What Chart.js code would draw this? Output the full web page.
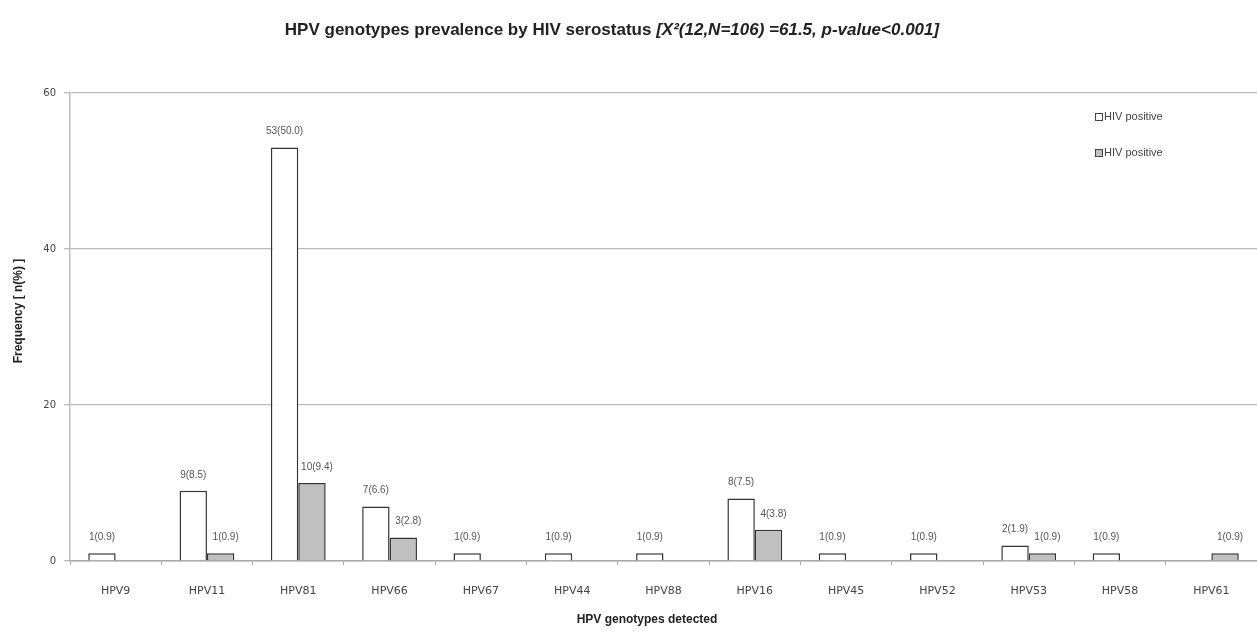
<!DOCTYPE html>
<html>
<head>
<meta charset="utf-8">
<script src="https://cdn.jsdelivr.net/npm/chart.js@4.4.0/dist/chart.umd.min.js"></script>
<style>
  html, body { margin: 0; padding: 0; background: #fff; }
  #wrap { width: 1257px; height: 634px; position: relative; }
</style>
</head>
<body>
<div id="wrap"><canvas id="hpvChart"></canvas></div>
<script>
// categories and values
const genotypes = ["HPV9", "HPV11", "HPV81", "HPV66", "HPV67", "HPV44", "HPV88", "HPV16", "HPV45", "HPV52", "HPV53", "HPV58", "HPV61"];
const hivPos = [1, 9, 53, 7, 1, 1, 1, 8, 1, 1, 2, 1, 0];
const hivPosLabels = ["1(0.9)", "9(8.5)", "53(50.0)", "7(6.6)", "1(0.9)", "1(0.9)", "1(0.9)", "8(7.5)", "1(0.9)", "1(0.9)", "2(1.9)", "1(0.9)", ""];
const hivNeg = [0, 1, 10, 3, 0, 0, 0, 4, 0, 0, 1, 0, 1];
const hivNegLabels = ["", "1(0.9)", "10(9.4)", "3(2.8)", "", "", "", "4(3.8)", "", "", "1(0.9)", "", "1(0.9)"];
const yTicks = [0, 20, 40, 60];
const seriesNames = ["HIV positive", "HIV positive"];

const fontNarrow = "'Liberation Sans Narrow', 'Liberation Sans', Arial";

// title, axis titles, legend and bar labels drawn by hand
const extras = {
  id: "extras",
  afterDraw(chart) {
    const ctx = chart.ctx;
    ctx.save();
    // title with italic part
    const t1 = "HPV genotypes prevalence by HIV serostatus ";
    const t2 = "[X\u00B2(12,N=106) =61.5, p-value<0.001]";
    ctx.fillStyle = "#222";
    ctx.textBaseline = "middle";
    ctx.font = "bold 17px " + fontNarrow;
    const w1 = ctx.measureText(t1).width;
    ctx.font = "italic bold 17px " + fontNarrow;
    const w2 = ctx.measureText(t2).width;
    let x = 612 - (w1 + w2) / 2;
    ctx.font = "bold 17px " + fontNarrow;
    ctx.textAlign = "left";
    ctx.fillText(t1, x, 30);
    ctx.font = "italic bold 17px " + fontNarrow;
    ctx.fillText(t2, x + w1, 30);

    // axis titles
    ctx.textAlign = "center";
    ctx.font = "bold 12px " + fontNarrow;
    ctx.fillText("HPV genotypes detected", 647, 620);
    ctx.save();
    ctx.translate(19, 311);
    ctx.rotate(-Math.PI / 2);
    ctx.font = "bold 12px " + fontNarrow;
    ctx.fillText("Frequency [ n(%) ]", 0, 0);
    ctx.restore();

    // legend
    ctx.textAlign = "left";
    ctx.font = "11px " + fontNarrow;
    const fills = ["#ffffff", "#c0c0c0"];
    [117, 153].forEach((ly, i) => {
      ctx.fillStyle = fills[i];
      ctx.strokeStyle = "#444";
      ctx.lineWidth = 1;
      ctx.fillRect(1095, ly - 4, 7, 7);
      ctx.strokeRect(1095.5, ly - 3.5, 7, 7);
      ctx.fillStyle = "#444";
      ctx.fillText(seriesNames[i], 1104, ly);
    });

    // value labels above bars
    ctx.font = "10px " + fontNarrow;
    ctx.fillStyle = "#555";
    ctx.textAlign = "center";
    const sets = [[hivPosLabels, 0], [hivNegLabels, 5]];
    sets.forEach(([labels, dx], di) => {
      chart.getDatasetMeta(di).data.forEach((bar, i) => {
        if (!labels[i]) return;
        ctx.fillText(labels[i], bar.x + dx, bar.y - 16);
      });
    });
    ctx.restore();
  }
};

const data = {
  labels: genotypes,
  datasets: [
    {
      label: seriesNames[0],
      data: hivPos,
      backgroundColor: "#ffffff",
      borderColor: "#333333",
      borderWidth: 1.5,
    },
    {
      label: seriesNames[1],
      data: hivNeg,
      backgroundColor: "#c0c0c0",
      borderColor: "#333333",
      borderWidth: 1.5,
    },
  ],
};

const config = {
  type: "bar",
  data: data,
  options: {
    responsive: true,
    maintainAspectRatio: false,
    animation: false,
    layout: { padding: { top: 93, right: 0, left: 0, bottom: 0 } },
    datasets: { bar: { categoryPercentage: 0.6, barPercentage: 1.0 } },
    plugins: {
      legend: { display: false },
      title: { display: false },
      tooltip: { enabled: false },
    },
    scales: {
      x: {
        afterFit(scale) { scale.height = 73; },
        grid: { offset: true, drawOnChartArea: false, tickLength: 4, color: "#aaa" },
        border: { color: "#aaa", width: 1.5 },
        ticks: {
          color: "#444",
          font: { family: "'DejaVu Sans', Verdana", size: 11 },
          padding: 20,
        },
      },
      y: {
        min: 0,
        max: 60,
        afterFit(scale) { scale.width = 70; },
        afterBuildTicks(scale) { scale.ticks = yTicks.map((v) => ({ value: v })); },
        grid: { color: "#bbb", tickLength: 6, lineWidth: 1.3 },
        border: { color: "#bbb", width: 1.5 },
        ticks: {
          color: "#444",
          font: { family: "'DejaVu Sans', Verdana", size: 10 },
          padding: 8,
        },
      },
    },
  },
  plugins: [extras],
};

const hpvChart = new Chart(document.getElementById("hpvChart"), config);
</script>
</body>
</html>
